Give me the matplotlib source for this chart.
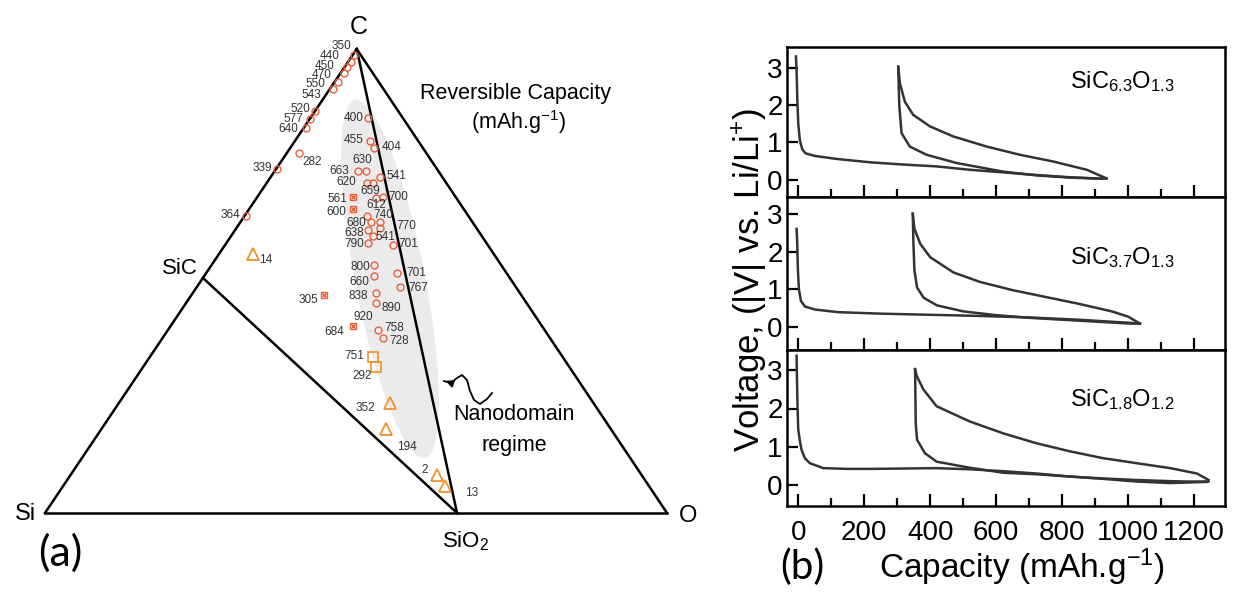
import numpy as np
import matplotlib
matplotlib.use("Agg")
import matplotlib.pyplot as plt
from matplotlib.patches import Ellipse

plt.rcParams['font.family'] = ['Liberation Sans', 'DejaVu Sans']
plt.rcParams['mathtext.default'] = 'regular'

W, H = 1244, 592

# ---- ternary diagram (coordinates in the triangle plane, pixel units) ----
corner_names = ['Si', 'O', 'C', 'SiC', 'SiO$_2$']
corner_x = [45, 667, 356.7, 203, 457]
corner_y = [513, 513, 49, 278, 513]

# red open circles (reversible capacity)
circ_x = [354.3, 350.7, 347.3, 344, 337.7, 332.7, 315.3, 310, 305.7, 299.3, 277, 245.7,
          368.3, 370, 374, 357.7, 366, 380, 366.7, 373.3, 376, 382.7, 367.3, 370.7, 380,
          380.3, 368.3, 373, 367.7, 392.7, 374, 374, 397, 400, 376, 376, 378.3, 382.7]
circ_y = [55, 61.7, 67.3, 73.3, 82.3, 89.3, 111, 119.3, 128.3, 152.7, 169, 216,
          118.3, 140.7, 147.7, 171, 170.7, 176.7, 182.7, 182.7, 198, 196.7, 215.7, 221.7, 221.7,
          228.3, 230, 236, 242.7, 244.7, 265, 276, 273.3, 287.3, 293.3, 302.7, 330, 337.7]
# red crossed squares
xsq_x = [352.7, 352.7, 324, 352.7]
xsq_y = [197, 209.3, 295, 326]
# orange open squares
sq_x = [372.7, 376]
sq_y = [356.7, 367.3]
# orange open triangles
tri_x = [252.7, 390, 386, 437.3, 445]
tri_y = [254, 403.3, 429.3, 475, 486]

cap_text = ['350', '440', '450', '470', '550', '543', '520', '577', '640', '282', '339', '364',
            '400', '455', '404', '630', '663', '541', '620', '659', '700', '612', '740', '680',
            '770', '638', '541', '790', '701', '800', '660', '701', '767', '838', '890', '920',
            '758', '728', '561', '600', '305', '684', '751', '292', '352', '194', '2', '13', '14']
cap_tx = [341.7, 330, 325, 322, 315, 311.7, 300.7, 293.3, 288.3, 311.7, 262.5, 230.7,
          354, 354, 391.7, 362.7, 339.3, 396.7, 346, 370.7, 398.3, 376.7, 383.7, 356,
          406, 354, 385, 354, 408.3, 360, 359.3, 416, 418.3, 358.3, 391.7, 363.3,
          394.3, 399.3, 337.5, 336.7, 308.3, 334.3, 354, 361.7, 365, 406.7, 424.3, 471.7, 265.7]
cap_ty = [46, 56, 66, 75, 84, 95, 109.3, 119.3, 129.3, 161.7, 168.3, 214.7,
          118.3, 140, 146.7, 160, 170.7, 176, 181.7, 190.7, 197.3, 205.5, 215.5, 222.7,
          226, 232.7, 237.3, 244, 244, 266.7, 281.7, 273.3, 288.3, 296, 307.7, 316.7,
          327.7, 341, 199.5, 212.3, 300, 331.7, 356, 376, 408.3, 446.7, 470, 492.7, 260]

# squiggly arrow toward the nanodomain region
sqg_x = [444, 451, 457, 462, 467, 470, 474, 480, 487, 492]
sqg_y = [381, 383, 378, 375, 380, 391, 400, 404, 399, 393]

# ---- galvanostatic curves (capacity mAh/g, voltage V) ----
p1_d1_cap = [-7, -5, -3, 0, 5, 12, 22, 50, 116, 217, 318, 419, 520, 621, 722, 823, 924]
p1_d1_v = [3.30, 2.9, 2.2, 1.5, 1.05, 0.82, 0.71, 0.64, 0.56, 0.47, 0.41, 0.36, 0.27, 0.20, 0.13, 0.07, 0.03]
p1_ch_cap = [934, 874, 773, 672, 571, 470, 399, 348, 323, 308, 303]
p1_ch_v = [0.04, 0.27, 0.49, 0.67, 0.89, 1.16, 1.43, 1.74, 2.09, 2.58, 3.03]
p1_d2_cap = [303, 306, 313, 338, 389, 480, 621, 722, 823, 924, 934]
p1_d2_v = [3.0, 2.0, 1.25, 0.89, 0.67, 0.45, 0.22, 0.12, 0.06, 0.03, 0.04]

p2_d1_cap = [-5, -3, -1, 2, 8, 20, 50, 120, 250, 400, 550, 700, 850, 1000, 1035]
p2_d1_v = [2.6, 2.2, 1.5, 1.0, 0.7, 0.55, 0.47, 0.40, 0.36, 0.33, 0.30, 0.26, 0.20, 0.12, 0.10]
p2_ch_cap = [1035, 1000, 950, 850, 750, 650, 550, 470, 400, 370, 352, 347]
p2_ch_v = [0.10, 0.28, 0.42, 0.62, 0.80, 0.98, 1.20, 1.45, 1.85, 2.20, 2.60, 3.0]
p2_d2_cap = [347, 349, 352, 360, 380, 420, 500, 600, 700, 800, 900, 1000, 1035]
p2_d2_v = [3.0, 2.2, 1.5, 1.05, 0.78, 0.58, 0.42, 0.32, 0.25, 0.20, 0.15, 0.10, 0.10]

p3_d1_cap = [-5, -4, -2, 0, 5, 10, 20, 35, 76, 150, 217, 320, 419, 520, 621, 722, 823, 924, 1025, 1127, 1177, 1243]
p3_d1_v = [3.38, 2.8, 2.0, 1.45, 1.15, 0.92, 0.70, 0.57, 0.44, 0.42, 0.42, 0.43, 0.44, 0.41, 0.36, 0.30, 0.22, 0.17, 0.13, 0.10, 0.09, 0.09]
p3_ch_cap = [1243, 1208, 1127, 1025, 924, 823, 722, 621, 520, 419, 379, 359, 354]
p3_ch_v = [0.13, 0.30, 0.44, 0.57, 0.70, 0.88, 1.09, 1.35, 1.66, 2.06, 2.50, 2.85, 3.03]
p3_d2_cap = [354, 355, 356, 360, 384, 419, 520, 621, 722, 823, 924, 1025, 1127, 1237]
p3_d2_v = [3.03, 2.3, 1.6, 1.18, 0.83, 0.61, 0.45, 0.32, 0.28, 0.22, 0.16, 0.09, 0.05, 0.08]

panel_names = [r'SiC$_{6.3}$O$_{1.3}$', r'SiC$_{3.7}$O$_{1.3}$', r'SiC$_{1.8}$O$_{1.2}$']

fig = plt.figure(figsize=(W / 100, H / 100), dpi=100)

# ---------------- (a) ternary ----------------
ax = fig.add_axes([0, 0, 0.6, 1])
ax.set_xlim(0, 0.6 * W)
ax.set_ylim(H, 0)
ax.axis('off')

ax.add_patch(Ellipse((390, 279), 70, 365, angle=-11, color='#ebebeb', lw=0, zorder=0))

si, o, c, sic, sio2 = range(5)
for a, b in [(si, o), (o, c), (c, si), (sic, sio2), (c, sio2)]:
    ax.plot([corner_x[a], corner_x[b]], [corner_y[a], corner_y[b]], color='k', lw=1.8, zorder=1)

ax.text(25, 514, 'Si', fontsize=17, ha='center', va='center')
ax.text(688, 516, 'O', fontsize=17, ha='center', va='center')
ax.text(359, 27, 'C', fontsize=18, ha='center', va='center')
ax.text(180, 269, 'SiC', fontsize=16, ha='center', va='center')
ax.text(466, 541, 'SiO$_2$', fontsize=16, ha='center', va='center')

red = '#e8603c'
orange = '#f0922b'
ax.plot(circ_x, circ_y, 'o', ms=5, mfc='none', mec=red, mew=1.0, zorder=3)
ax.plot(xsq_x, xsq_y, 's', ms=5, mfc='none', mec=red, mew=1.0, zorder=3)
ax.plot(xsq_x, xsq_y, 'x', ms=3.5, mec=red, mew=1.0, zorder=3)
ax.plot(sq_x, sq_y, 's', ms=7, mfc='none', mec=orange, mew=1.2, zorder=3)
ax.plot(tri_x, tri_y, '^', ms=9, mfc='none', mec=orange, mew=1.3, zorder=3)

for t, x, y in zip(cap_text, cap_tx, cap_ty):
    ax.text(x, y, t, fontsize=8.5, color='#333333', ha='center', va='center', zorder=4)

ax.text(515, 93, 'Reversible Capacity', fontsize=15.5, ha='center', va='center')
ax.text(519, 122, '(mAh.g$^{-1}$)', fontsize=15.5, ha='center', va='center')
ax.text(514, 414, 'Nanodomain', fontsize=15.5, ha='center', va='center')
ax.text(514, 445, 'regime', fontsize=15.5, ha='center', va='center')

ax.plot(sqg_x, sqg_y, color='k', lw=1.3)
ax.annotate('', xy=(sqg_x[0] - 1, sqg_y[0] - 1), xytext=(sqg_x[1], sqg_y[1]),
            arrowprops=dict(arrowstyle='-|>', color='k', lw=1.2, mutation_scale=11))

fig.text(60 / W, 1 - 553 / H, '(a)', fontsize=31, family=['Lato', 'DejaVu Sans'],
         ha='center', va='center')

# ---------------- (b) voltage profiles ----------------
left = 786.7 / W
width = (1225 - 786.7) / W
bounds = [(46.7, 196.7), (196.7, 350), (350, 506)]
ylims = [(-0.45, 3.56), (-0.6, 3.45), (-0.55, 3.53)]
curves = [
    [(p1_d1_cap, p1_d1_v), (p1_ch_cap, p1_ch_v), (p1_d2_cap, p1_d2_v)],
    [(p2_d1_cap, p2_d1_v), (p2_ch_cap, p2_ch_v), (p2_d2_cap, p2_d2_v)],
    [(p3_d1_cap, p3_d1_v), (p3_ch_cap, p3_ch_v), (p3_d2_cap, p3_d2_v)],
]
label_y = [0.77, 0.60, 0.68]

for i, (top, bot) in enumerate(bounds):
    bx = fig.add_axes([left, 1 - bot / H, width, (bot - top) / H])
    for cap, v in curves[i]:
        bx.plot(cap, v, color='#333333', lw=1.8)
    bx.set_xlim(-35, 1293)
    bx.set_ylim(*ylims[i])
    bx.set_xticks(np.arange(0, 1201, 200))
    bx.set_xticks(np.arange(100, 1201, 200), minor=True)
    bx.set_yticks([0, 1, 2, 3])
    bx.tick_params(axis='both', which='both', direction='in', top=False, right=False,
                   width=1.6, labelsize=20)
    bx.tick_params(axis='x', which='major', length=9, pad=10)
    bx.tick_params(axis='x', which='minor', length=6)
    bx.tick_params(axis='y', length=8, pad=3)
    for s in bx.spines.values():
        s.set_linewidth(1.8)
    if i < 2:
        bx.tick_params(axis='x', labelbottom=False)
    bx.text(0.765, label_y[i], panel_names[i], transform=bx.transAxes, fontsize=17,
            ha='center', va='center')

fig.text(750 / W, 1 - 280 / H, 'Voltage, (|V| vs. Li/Li$^{+}$)', fontsize=25,
         rotation=90, ha='center', va='center')
fig.text(1022 / W, 1 - 567 / H, 'Capacity (mAh.g$^{-1}$)', fontsize=24,
         ha='center', va='center')
fig.text(802 / W, 1 - 567 / H, '(b)', fontsize=29, family=['Lato', 'DejaVu Sans'],
         ha='center', va='center')

fig.savefig('out.png', dpi=100)
